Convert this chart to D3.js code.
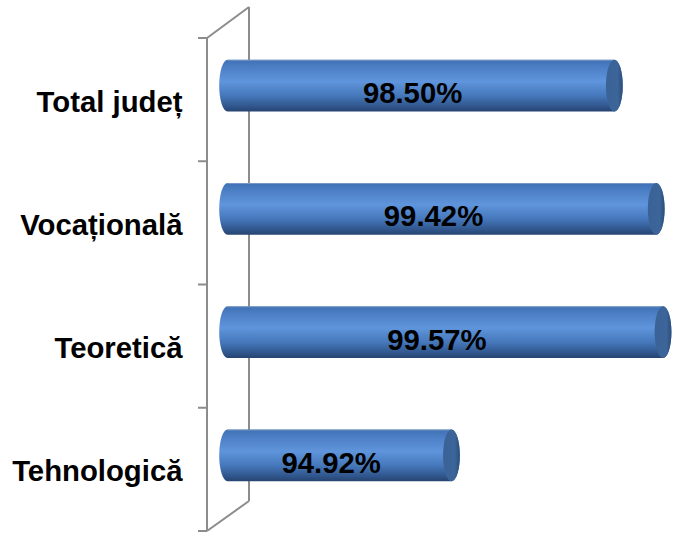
<!DOCTYPE html>
<html>
<head>
<meta charset="utf-8">
<script src="https://cdn.jsdelivr.net/npm/d3@7/dist/d3.min.js"></script>
<style>
  html, body { margin: 0; padding: 0; background: #ffffff; }
  svg { display: block; }
</style>
</head>
<body>
<svg id="chart" width="673" height="533"></svg>
<script>
const categories = ["Total județ", "Vocațională", "Teoretică", "Tehnologică"];
const values = [98.50, 99.42, 99.57, 94.92];
const valueLabels = ["98.50%", "99.42%", "99.57%", "94.92%"];
const xDomain = [90, 100];

const svg = d3.select("#chart");

const x = d3.scaleLinear().domain(xDomain).range([227.6, 682.6]);
const y = d3.scaleBand().domain(categories).range([38, 531]).paddingInner(0).paddingOuter(0);

const depthX = 42, depthY = 31;      // 3D wall offset
const frontX = 207;
const barOffset = -14;               // bars sit deeper in 3D space
const barH = y.step() * 0.42;
const rx = 8.4;
const FONT = "'Liberation Sans', Arial, sans-serif";
const FS = 29.3;

const defs = svg.append("defs");
const grad = defs.append("linearGradient").attr("id", "barGrad")
  .attr("x1", 0).attr("y1", 0).attr("x2", 0).attr("y2", 1);
[["0%", "#3f70b4"], ["12%", "#4a7cc2"], ["42%", "#5f95dc"], ["70%", "#4577ba"], ["90%", "#30568c"], ["100%", "#264470"]]
  .forEach(([o, c]) => grad.append("stop").attr("offset", o).attr("stop-color", c));

const capGrad = defs.append("linearGradient").attr("id", "capGrad")
  .attr("x1", 0).attr("y1", 0).attr("x2", 1).attr("y2", 0);
[["0%", "#3a6296"], ["70%", "#3c6599"], ["100%", "#2c4d7a"]]
  .forEach(([o, c]) => capGrad.append("stop").attr("offset", o).attr("stop-color", c));

// Wall
const wall = svg.append("g").attr("stroke", "#8c8c8c").attr("stroke-width", 2).attr("fill", "none");
const yTop = y.range()[0], yBot = y.range()[1];
wall.append("line").attr("x1", frontX).attr("y1", yTop).attr("x2", frontX).attr("y2", yBot);
wall.append("line").attr("x1", frontX + depthX).attr("y1", yTop - depthY).attr("x2", frontX + depthX).attr("y2", yBot - depthY + 1);
wall.append("line").attr("x1", frontX).attr("y1", yTop).attr("x2", frontX + depthX).attr("y2", yTop - depthY);
wall.append("line").attr("x1", frontX).attr("y1", yBot).attr("x2", frontX + depthX).attr("y2", yBot - depthY + 1);
const tickYs = categories.map(c => y(c)).concat([yBot]);
wall.selectAll("line.tick").data(tickYs).enter().append("line")
  .attr("class", "tick")
  .attr("x1", frontX - 9).attr("x2", frontX)
  .attr("y1", d => d).attr("y2", d => d);

// Bars
const bars = svg.append("g");
categories.forEach((c, i) => {
  const cy = y(c) + y.bandwidth() / 2 + barOffset;
  const top = cy - barH / 2, bot = cy + barH / 2;
  const x0 = x(xDomain[0]), x1 = x(values[i]);
  const ry = barH / 2;
  bars.append("path")
    .attr("d", `M${x0},${top} A${rx},${ry} 0 0 0 ${x0},${bot} L${x1},${bot} A${rx},${ry} 0 0 0 ${x1},${top} Z`)
    .attr("fill", "url(#barGrad)");
  bars.append("line").attr("x1", x0).attr("x2", x1).attr("y1", top + 0.5).attr("y2", top + 0.5)
    .attr("stroke", "#8fa8c8").attr("stroke-width", 1).attr("opacity", 0.7);
  bars.append("ellipse")
    .attr("cx", x1).attr("cy", cy).attr("rx", rx).attr("ry", ry)
    .attr("fill", "url(#capGrad)");
  bars.append("text")
    .attr("x", ((x0 - rx) + (x1 - rx)) / 2)
    .attr("y", cy + 17.5)
    .attr("text-anchor", "middle")
    .attr("font-family", FONT)
    .attr("font-weight", "bold")
    .attr("font-size", FS)
    .attr("fill", "#000")
    .text(valueLabels[i]);
});

// Category labels
svg.append("g").selectAll("text").data(categories).enter().append("text")
  .attr("x", 182.5)
  .attr("y", d => y(d) + y.bandwidth() / 2 + 12)
  .attr("text-anchor", "end")
  .attr("font-family", FONT)
  .attr("font-weight", "bold")
  .attr("font-size", FS)
  .attr("fill", "#000")
  .text(d => d);
</script>
</body>
</html>
